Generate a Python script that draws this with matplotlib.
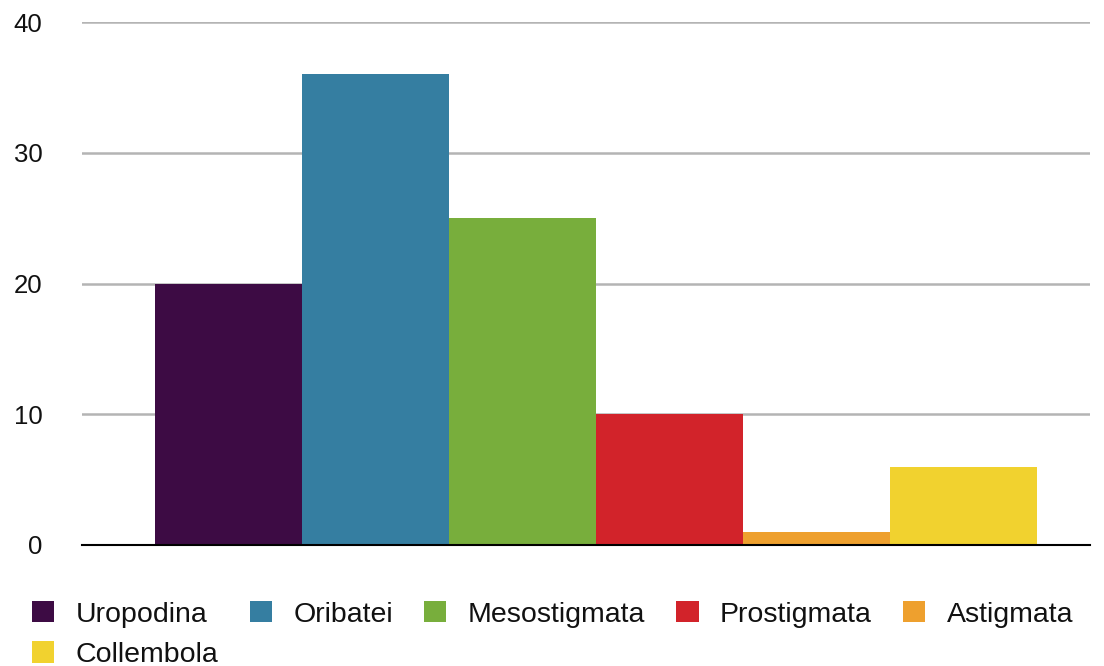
import matplotlib.pyplot as plt
from matplotlib.patches import Patch

# data
groups = ['Uropodina', 'Oribatei', 'Mesostigmata', 'Prostigmata', 'Astigmata', 'Collembola']
counts = [20, 36, 25, 10, 1, 6]
colors = ['#3d0b44', '#357ea1', '#78ae3c', '#d2232a', '#eea02e', '#f1d22f']

plt.rcParams['font.family'] = ['Liberation Sans', 'DejaVu Sans']

fig = plt.figure(figsize=(11.04, 6.66), dpi=100)
ax = fig.add_axes([82 / 1104, 1 - 545 / 666, (1090 - 82) / 1104, (545 - 22) / 666])

x = range(len(groups))
ax.bar(x, counts, width=1.0, color=colors, zorder=3)

ax.set_xlim(-0.997, 5.86)
ax.set_ylim(0, 40)
ax.set_yticks([0, 10, 20, 30, 40])
ax.set_xticks([])
ax.tick_params(axis='y', length=0, pad=28.5, labelsize=18.5, labelcolor='#111111')

ax.grid(axis='y', color='#b4b4b4', linewidth=1.8, zorder=0)
for s in ['top', 'right', 'left']:
    ax.spines[s].set_visible(False)
ax.spines['bottom'].set_color('black')
ax.spines['bottom'].set_linewidth(1.5)
ax.spines['bottom'].set_zorder(4)

# legend: row-major order via column-wise fill
order = [0, 5, 1, 2, 3, 4]
handles = [Patch(facecolor=colors[i], edgecolor='none') for i in order]
labels = [groups[i] for i in order]
fig.legend(handles, labels, ncol=5, loc='upper left', bbox_to_anchor=(32 / 1104, 1 - 601 / 666),
           frameon=False, fontsize=20.5, handlelength=0.78, handleheight=0.78,
           handletextpad=0.75, columnspacing=1.1, labelspacing=0.48,
           borderpad=0, borderaxespad=0, labelcolor='#111111')

fig.savefig('out.png', dpi=100)
